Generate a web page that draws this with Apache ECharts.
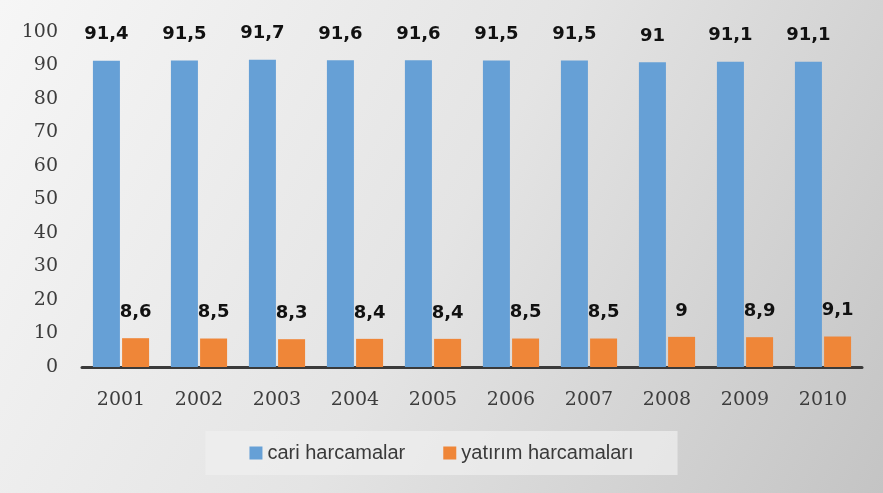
<!DOCTYPE html>
<html>
<head>
<meta charset="utf-8">
<style>
  html, body { margin: 0; padding: 0; }
  #chart { width: 883px; height: 493px; }
</style>
<script src="https://cdn.jsdelivr.net/npm/echarts@6/dist/echarts.min.js"></script>
</head>
<body>
<div id="chart"></div>
<script>
  // veriler
  var years = ['2001', '2002', '2003', '2004', '2005', '2006', '2007', '2008', '2009', '2010'];
  var cari = [91.4, 91.5, 91.7, 91.6, 91.6, 91.5, 91.5, 91, 91.1, 91.1];
  var yatirim = [8.6, 8.5, 8.3, 8.4, 8.4, 8.5, 8.5, 9, 8.9, 9.1];
  var seriesNames = ['cari harcamalar', 'yatırım harcamaları'];

  // 91.4 -> "91,4"
  function comma(p) {
    return String(p.value).replace('.', ',');
  }

  var labelStyle = {
    show: true,
    position: 'top',
    distance: 17,
    formatter: comma,
    fontFamily: 'DejaVu Sans',
    fontWeight: 'bold',
    fontSize: 18,
    color: '#111'
  };

  var myChart = echarts.init(document.getElementById('chart'));
  myChart.setOption({
    animation: false,
    backgroundColor: {
      type: 'linear', x: 0, y: 0, x2: 1, y2: 1,
      colorStops: [
        { offset: 0, color: '#f6f6f6' },
        { offset: 0.5, color: '#e4e4e4' },
        { offset: 1, color: '#c4c4c4' }
      ]
    },
    grid: { left: 82, right: 21, top: 32, bottom: 126 },
    legend: {
      bottom: 18,
      left: 'center',
      itemWidth: 13,
      itemHeight: 13,
      itemGap: 38,
      icon: 'rect',
      padding: [12, 44, 12, 44],
      backgroundColor: 'rgba(240,240,240,0.7)',
      textStyle: { fontFamily: 'Liberation Sans', fontSize: 20, color: '#3a3a3a' },
      data: seriesNames
    },
    xAxis: {
      type: 'category',
      data: years,
      axisLine: { lineStyle: { color: '#3a3a3a', width: 3 } },
      axisTick: { show: false },
      axisLabel: { fontFamily: 'DejaVu Serif', fontSize: 19, color: '#3c3c3c', margin: 24 }
    },
    yAxis: {
      type: 'value',
      min: 0,
      max: 100,
      interval: 10,
      splitLine: { show: false },
      axisLine: { show: false },
      axisTick: { show: false },
      axisLabel: { fontFamily: 'DejaVu Serif', fontSize: 19, color: '#3c3c3c', margin: 24 }
    },
    series: [
      {
        name: seriesNames[0],
        type: 'bar',
        data: cari,
        barWidth: 27,
        barGap: '8%',
        itemStyle: { color: '#66a0d6' },
        label: labelStyle
      },
      {
        name: seriesNames[1],
        type: 'bar',
        data: yatirim,
        barWidth: 27,
        itemStyle: { color: '#ef8638' },
        label: labelStyle
      }
    ]
  });
</script>
</body>
</html>
